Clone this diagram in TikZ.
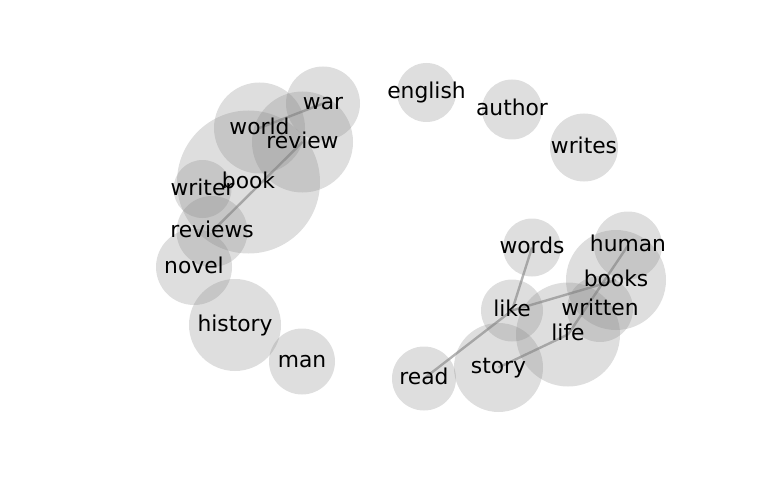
\documentclass[tikz,border=0pt]{standalone}
\usepackage{fontspec}
\setmainfont{DejaVu Sans}
\pgfdeclarelayer{bubbles}
\pgfdeclarelayer{labels}
\pgfsetlayers{bubbles,main,labels}
\begin{document}
\begin{tikzpicture}[x=1pt,y=-1pt,
  bubble/.style={fill=black!50,fill opacity=0.26,draw=none},
  link/.style={draw=black!50,draw opacity=0.6,line width=2.4pt},
  word/.style={inner sep=0pt,text height=0.76em+4.5pt,text depth=0.236em-4.5pt,font=\fontsize{21.8}{26}\selectfont}]
\useasboundingbox (0,0) rectangle (768,500);
% bubbles
\begin{pgfonlayer}{bubbles}
\foreach \x/\y/\r in {323/103.5/37, 259.5/128/45.5, 302.5/142/50.5, 248.5/182/71.5,
  202.5/189/29, 212/231.5/35.5, 194/267/38, 235/325/46, 302/361.5/33,
  426.5/92.5/29.5, 512/109.5/30, 584/147.5/34,
  532/247.5/29, 628/245.5/34, 616/280/50, 600/309/33, 512/310.5/31,
  568/334.5/52, 498.5/367.5/44.5, 424/378.5/32}
  \fill[bubble] (\x,\y) circle[radius=\r];
\end{pgfonlayer}
% words
\begin{pgfonlayer}{labels}
\node[word] (war) at (323,103.5) {war};
\node[word] (world) at (259.5,128) {world};
\node[word] (review) at (302.5,142) {review};
\node[word] (book) at (248.5,182) {book};
\node[word] (writer) at (202.5,189) {writer};
\node[word] (reviews) at (212,231.5) {reviews};
\node[word] (novel) at (194,267) {novel};
\node[word] (history) at (235,325) {history};
\node[word] (man) at (302,361.5) {man};
\node[word] (english) at (426.5,92.5) {english};
\node[word] (author) at (512,109.5) {author};
\node[word] (writes) at (584,147.5) {writes};
\node[word] (words) at (532,247.5) {words};
\node[word] (human) at (628,245.5) {human};
\node[word] (books) at (616,280) {books};
\node[word] (written) at (600,309) {written};
\node[word] (like) at (512,310.5) {like};
\node[word] (life) at (568,334.5) {life};
\node[word] (story) at (498.5,367.5) {story};
\node[word] (read) at (424,378.5) {read};
\end{pgfonlayer}
% links between centres, beneath the text
\path[link] (war.center) -- (world.center);
\path[link] (review.center) -- (reviews.center);
\path[link] (words.center) -- (like.center);
\path[link] (like.center) -- (books.center);
\path[link] (like.center) -- (read.center);
\path[link] (human.center) -- (life.center);
\path[link] (life.center) -- (story.center);
\end{tikzpicture}
\end{document}
